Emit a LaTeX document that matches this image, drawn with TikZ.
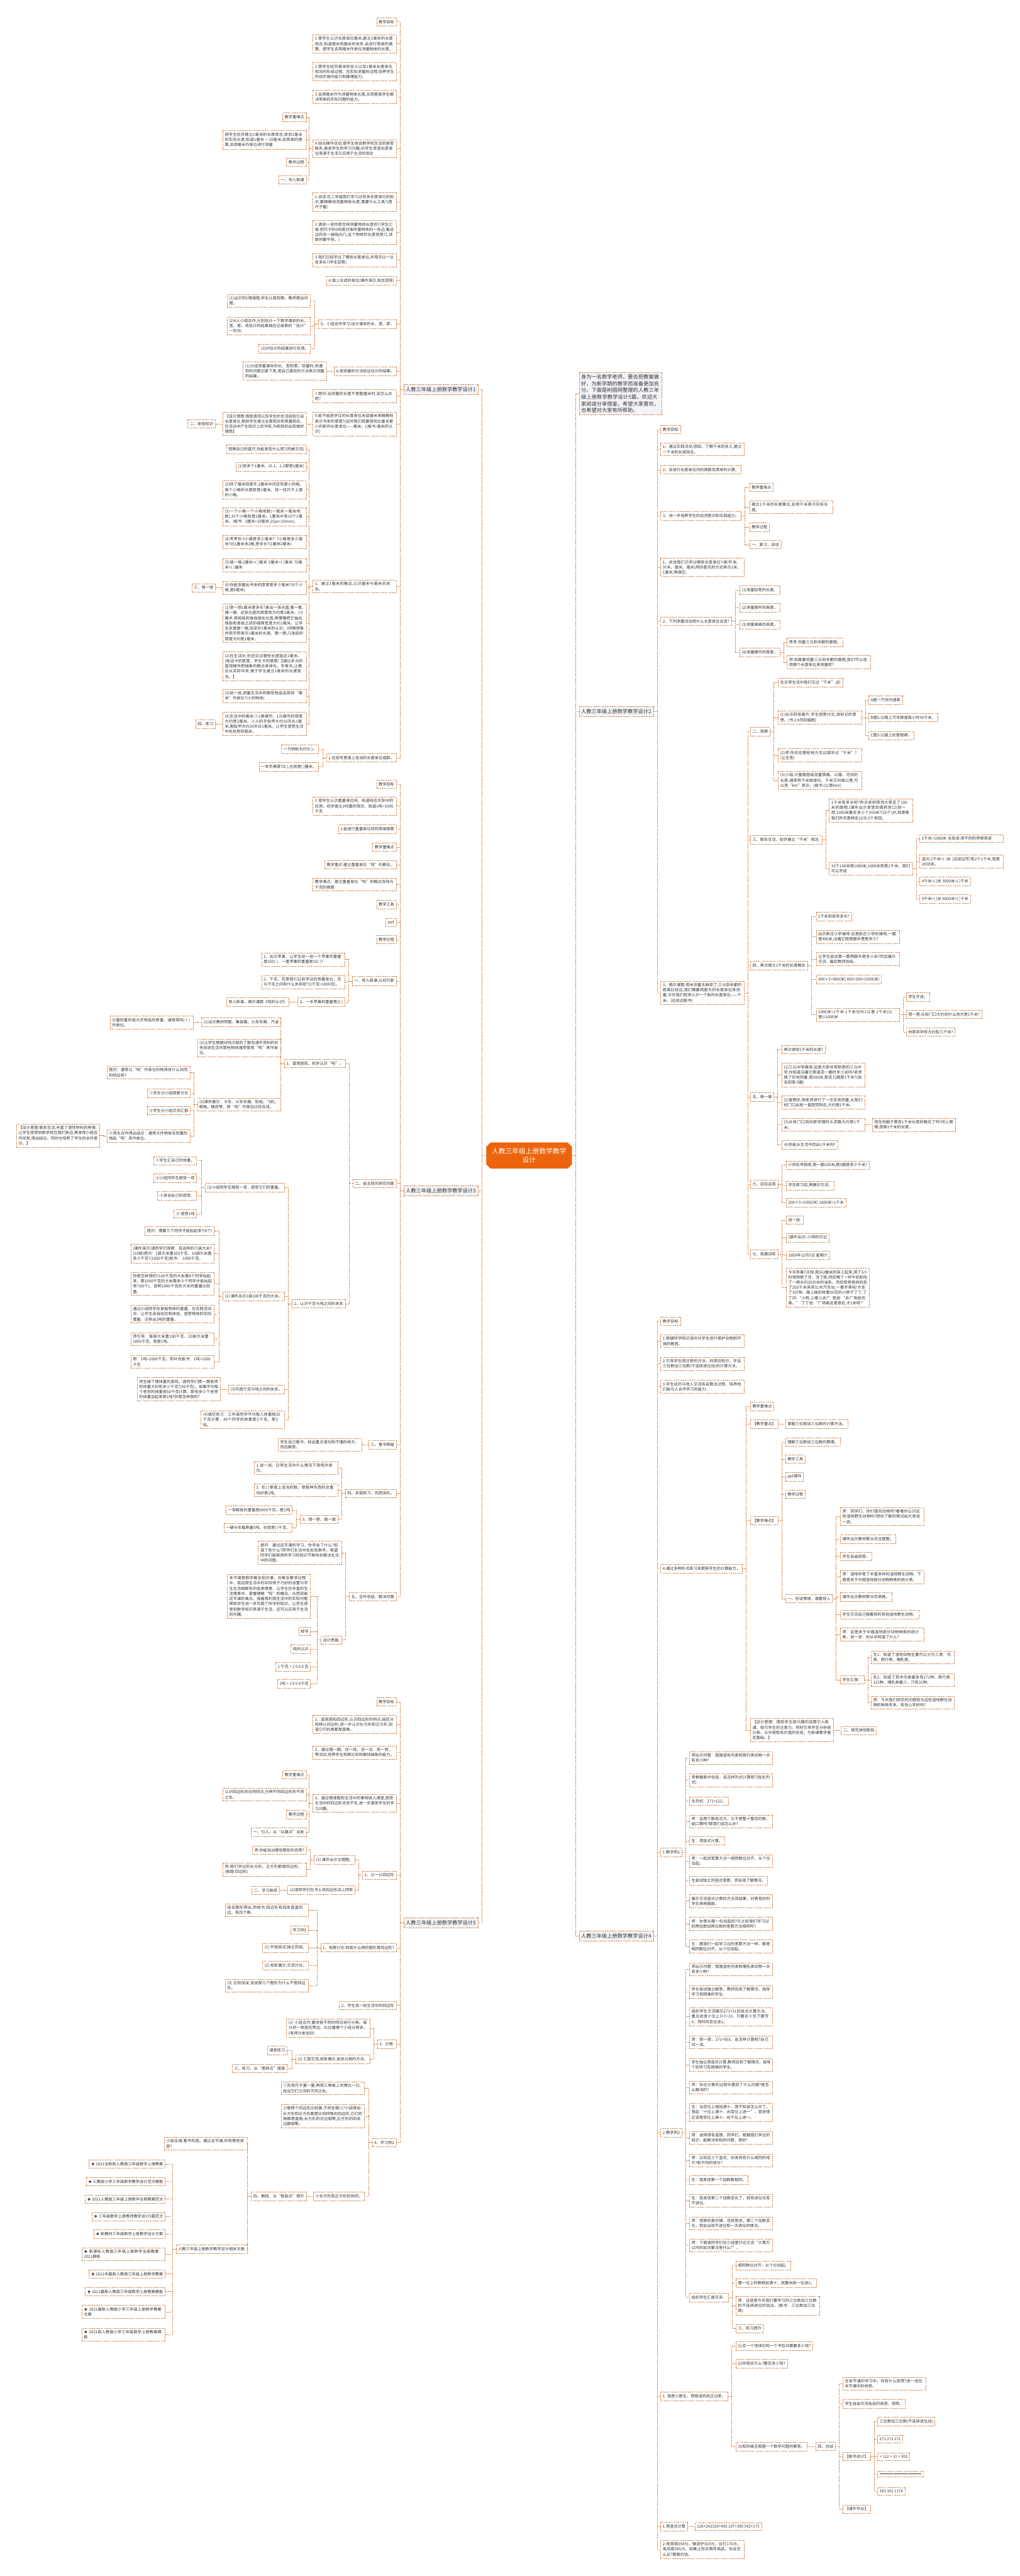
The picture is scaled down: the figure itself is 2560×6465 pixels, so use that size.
\documentclass[tikz,border=0pt]{standalone}
\usepackage{fontspec}
\setmainfont{Noto Sans CJK SC}
\XeTeXlinebreaklocale "zh"
\XeTeXlinebreakskip = 0pt plus 1pt
\usetikzlibrary{shapes.misc}

\definecolor{edgeor}{RGB}{207,116,52}
\definecolor{rootor}{RGB}{236,100,14}
\definecolor{topicgray}{RGB}{242,243,246}
\definecolor{txtgray}{RGB}{51,51,51}

\tikzset{
  box/.style={draw=edgeor, dash pattern=on 2.6pt off 1.8pt, line width=1.1pt,
    fill=white, text=txtgray, font=\fontsize{9.8}{13}\selectfont,
    inner xsep=5pt, inner ysep=6pt, align=left},
  lt/.style={box, anchor=east},
  rt/.style={box, anchor=west},
  wrap/.style={text width=199pt, inner ysep=5pt},
  topic/.style={box, fill=topicgray, font=\fontsize{13}{16.7}\selectfont, inner ysep=6.5pt},
  root/.style={shape=chamfered rectangle, chamfered rectangle xsep=7pt, fill=rootor,
    draw=rootor, text=white, font=\fontsize{17}{22}\selectfont, align=center,
    minimum width=215pt, minimum height=65pt},
  link/.style={draw=edgeor, dash pattern=on 2.6pt off 1.8pt, line width=1.1pt}
}

\begin{document}
\begin{tikzpicture}[x=1pt, y=-1pt]
  \useasboundingbox (0,0) rectangle (2560,6465);

  % center and main topics
  \node[root] (root) at (1328,2900) {人教三年级上册数学教学\\设计};
  \node[topic, anchor=east] (d1) at (1200,978) {人教三年级上册数学教学设计1};
  \node[topic, anchor=east] (d3) at (1200,2989) {人教三年级上册数学教学设计3};
  \node[topic, anchor=east] (d5) at (1200,4825) {人教三年级上册数学教学设计5};
  \node[topic, anchor=west, text width=197pt, inner ysep=5pt] (intro) at (1453,988)
    {身为一名数学老师，要去把教案做好，为新学期的教学而准备更加充分。下面是树图网整理的人教三年级上册数学教学设计5篇，欢迎大家阅读分享借鉴，希望大家喜欢，也希望对大家有所帮助。};
  \node[topic, anchor=west] (d2) at (1453,1785) {人教三年级上册数学教学设计2};
  \node[topic, anchor=west] (d4) at (1453,4858) {人教三年级上册数学教学设计4};

  % design 1
  \node[lt] (a1) at (995,55) {教学目标};
  \node[lt,wrap] (a2) at (995,110) {1.使学生认识长度单位毫米,建立1毫米的长度观念,知道毫米和厘米的关系,会进行简单的换算。使学生会用毫米作单位测量物体的长度。};
  \node[lt,wrap] (a3) at (995,180) {2.使学生经历毫米的含义以及1毫米长度单位观念的形成过程。在实际测量的过程,培养学生的动手操作能力和推理能力。};
  \node[lt,wrap] (a4) at (995,243) {3.会用毫米作为测量物体长度,从而提高学生解决简单的实际问题的能力。};
  \node[lt,wrap] (a5) at (995,373) {4.结合操作活动,使学生体会数学和生活的紧密联系,激发学生的学习兴趣,向学生渗透长度单位来源于生活又应用于生活的观念};
  \node[lt] (a5a) at (769,294) {教学重难点};
  \node[lt,wrap] (a5b) at (769,351) {使学生初步建立1毫米的长度观念,体验1毫米的实际长度,知道1厘米 = 10毫米;会简单的换算;会用毫米作单位进行测量};
  \node[lt] (a5c) at (769,407) {教学过程};
  \node[lt] (a5d) at (769,451) {一、导入新课};
  \node[lt,wrap] (a6) at (995,507) {1.谈话:在二年级我们学习过有关长度单位的知识,要精确地测量物体长度,需要什么工具?(用尺子量)};
  \node[lt,wrap] (a7) at (995,583) {2.请说一说你是怎样测量物体长度的?(学生汇报:把尺子的0刻度对准所量物体的一条边,看这边的另一端指向几,这个物体的长度就是几,读数时要平视。)};
  \node[lt,wrap] (a8) at (995,653) {3.我们已经学过了哪些长度单位,并用手比一比有多长?(学生回答)};
  \node[lt] (a9) at (995,704) {4.填上合适的单位(课件演示,指生回答)};
  \node[lt] (a10) at (995,814) {5、小组合作学习,估计课本的长、宽、厚。};
  \node[lt,wrap] (a10a) at (780,755) {(1)出示例1情境图,学生认真观察。教师提出问题。};
  \node[lt,wrap] (a10b) at (780,818) {(2)4人小组合作,分别估计一下数学课本的长、宽、厚。将估计的结果填在记录表的“估计”一栏中。};
  \node[lt] (a10c) at (780,875) {(3)对估计的结果进行反馈。};
  \node[lt] (a11) at (995,932) {6.用测量的方法验证估计的结果。};
  \node[lt,wrap] (a11a) at (820,931) {(1)分组测量课本的长、宽和厚。测量时,将遇到的问题记录下来,用自己喜欢的方法表示测量的结果。};
  \node[lt,wrap] (a12) at (995,994) {7.提问:当测量的长度不是整厘米时,该怎么办呢?};
  \node[lt,wrap] (a13) at (995,1064) {8.能不能用学过的长度单位米或厘米来精确地表示书本的厚度?(这时我们就要用到比厘米更小的新的长度单位——毫米。)(板书:毫米的认识)};
  \node[lt,wrap] (a13a) at (769,1064) {【设计意图:借助游戏以及学生的生活经验引出长度单位,帮助学生建立长度观念和质量观念。在活动中产生知识上的冲突,为新知的出现做好铺垫】};
  \node[lt] (a13b) at (541,1064) {二、新授知识};
  \node[lt,wrap] (a14) at (995,1472) {1、建立1毫米的概念,认识厘米与毫米的关系。};
  \node[lt] (a14a) at (769,1128) {观察自己的直尺,你能发现什么呢?(同桌交流)};
  \node[lt] (a14b) at (769,1171) {(1)很多个1厘米。(0-1、1-2都是1厘米)};
  \node[lt,wrap] (a14c) at (769,1229) {(2)除了厘米刻度外,1厘米中间还有更小的格。每个小格的长度就是1毫米。找一找尺子上面的小格。};
  \node[lt,wrap] (a14d) at (769,1297) {(3)一个小格一个小格地数(一毫米一毫米地数),10个小格就是1厘米。1厘米中有10个1毫米。(板书: 1厘米=10毫米,25px=10mm)。};
  \node[lt,wrap] (a14e) at (769,1360) {(4)考考你:3小格是多少毫米? 7小格是多少毫米?比1厘米多2格,是多长?(1厘米2毫米)};
  \node[lt,wrap] (a14f) at (769,1418) {(5)填一填:2厘米=( )毫米 5厘米=( )毫米 70毫米=( )厘米};
  \node[lt,wrap] (a14g) at (769,1475) {(6)你能测量出书本的厚度是多少毫米?(6个小格,是6毫米)};
  \node[lt] (a14g1) at (541,1475) {三、想一想};
  \node[lt,wrap] (a14h) at (769,1564) {(1)想一想1毫米是多长?拿出一张光盘,看一看,摸一摸。这张光盘的厚度就大约是1毫米。(小魔术:用拇指和食指捏住光盘,再慢慢把它抽出,拇指和食指之间的缝隙宽度大约1毫米。让学生反复做一做,加深对1毫米的认识。)闭眼想象并用手势表示1毫米的长度。猜一猜,几张纸的厚度大约是1毫米。};
  \node[lt,wrap] (a14i) at (769,1672) {(2)在生活中,你还见过哪些长度接近1毫米。(电话卡的厚度、学生卡的厚度)【通过多次的直观操作把抽象的概念具体化、形象化,让概念从实际中来,便于学生建立1毫米的长度观念。】};
  \node[lt,wrap] (a14j) at (769,1747) {(3)说一说,测量生活中的哪些物品会用到“毫米”作单位?(小的物体)};
  \node[lt,wrap] (a14k) at (769,1817) {(4)生活中的毫米:①1角硬币、1元硬币的厚度大约是2毫米。②人的手指甲大约10天长1毫米,脚趾甲大约20天长1毫米。让学生感受生活中处处用到毫米。};
  \node[lt] (a14k1) at (541,1817) {四、练习};
  \node[lt] (a15) at (995,1902) {1.在括号里填上适当的长度单位或数。};
  \node[lt] (a15a) at (800,1880) {一只蚂蚁长约3( )。};
  \node[lt] (a15b) at (800,1924) {一本字典厚70( ),也就是( )厘米。};

  % design 3
  \node[lt] (c1) at (995,1968) {教学目标};
  \node[lt,wrap] (c2) at (995,2023) {1 使学生认识重量单位吨，知道吨在实际中的应用，初步建立1吨重的观念，知道1吨=1000千克};
  \node[lt] (c3) at (995,2081) {2 能进行重量单位间的简单换算};
  \node[lt] (c4) at (995,2126) {教学重难点};
  \node[lt] (c5) at (995,2170) {教学重点:建立重量单位“吨”的概念。};
  \node[lt,wrap] (c6) at (995,2220) {教学难点：建立重量单位“吨”的概念及吨与千克的换算};
  \node[lt] (c7) at (995,2270) {教学工具};
  \node[lt] (c8) at (995,2315) {ppt};
  \node[lt] (c9) at (995,2358) {教学过程};
  \node[lt] (c10) at (995,2462) {一、导入新课,以旧引新};
  \node[lt,wrap] (c10a) at (866,2408) {1、出示苹果，让学生说一说一个苹果的重量是250( )，一筐苹果的重量是15( )?};
  \node[lt,wrap] (c10b) at (866,2465) {2、千克、克是我们以前学过的质量单位，克与千克之间有什么关系呢?(1千克=1000克)。};
  \node[lt] (c10c) at (866,2515) {3、一车苹果的重量是2( )};
  \node[lt] (c10d) at (726,2515) {导入新课，揭示课题《吨的认识》};
  \node[lt] (c11) at (995,2970) {二、自主探究研究问题};
  \node[lt] (c11a) at (867,2669) {1、直观感知，初步认识“吨”。};
  \node[lt] (c11a1) at (705,2566) {(1)出示教材例题，集装箱，火车车厢，汽油};
  \node[lt,wrap] (c11a1x) at (486,2566) {计量较重的或大宗物品的质量，通常用吨( t )作单位。};
  \node[lt,wrap] (c11a2) at (705,2630) {(2)让学生根据对吨大致的了解及课外资料的补充说说生活中那些物体通常使用“吨”来作单位。};
  \node[lt,wrap] (c11a3) at (705,2772) {(3)课件展示：卡车、火车车厢、轮船、飞机、鲸鱼、楼房等，用“吨”作单位比较合适。};
  \node[lt,wrap] (c11a3a) at (478,2692) {提问：通常以“吨”作单位的物体有什么共同的特征呢?};
  \node[lt] (c11a3b) at (478,2744) {①学生分小组观察讨论};
  \node[lt] (c11a3c) at (478,2787) {②学生分小组交流汇报};
  \node[lt,wrap] (c11a3d) at (478,2851) {③师生合作得出结论：通常大件物体及较重的物品“吨”来作单位。};
  \node[lt,wrap] (c11a3e) at (251,2850) {【设计意图:联系生活,丰富了感性材料的种类,让学生感受到数学就在我们身边,再发挥小组合作优势,得出结论。同时也培养了学生的合作意识。】};
  \node[lt] (c11b) at (867,3272) {2、认识千克与吨之间的关系};
  \node[lt] (c11b1) at (714,2980) {(1)小组同学互相背一背，感受它们的重量。};
  \node[lt] (c11b1a) at (494,2913) {①学生汇自己的体重。};
  \node[lt] (c11b1b) at (494,2957) {②小组同学互相背一背};
  \node[lt] (c11b1c) at (494,3001) {③说说自己的感受。};
  \node[lt] (c11b1d) at (494,3046) {④ 感受1吨};
  \node[lt] (c11b2) at (714,3253) {(2) 课件出示1袋100千克的大米。};
  \node[lt] (c11b2a) at (538,3089) {提问：需要几个同学才能抬起来?(8个)};
  \node[lt,wrap] (c11b2b) at (538,3146) {(课件演示)请同学们观察：有这样的几袋大米?(10袋)提问：1袋大米重100千克，10袋大米重多少千克?(1000千克)板书： 1000千克。};
  \node[lt,wrap] (c11b2c) at (538,3222) {你是怎样想的?100千克的大米需8个同学抬起来，那1000千克的大米需多少个同学才能抬起来?(80个)。说明1000千克的大米的重量比较重。};
  \node[lt,wrap] (c11b2d) at (538,3298) {通过小组同学反复掂物体的重量，在实践活动中，让学生亲自经历和体验，感受物体的实际重量。迁移出1吨的重量。};
  \node[lt,wrap] (c11b2e) at (538,3361) {师引导：每袋大米重100千克，10袋大米重1000千克，就是1吨。};
  \node[lt,wrap] (c11b2f) at (538,3418) {即：1吨=1000千克。师补充板书：1吨=1000千克};
  \node[lt] (c11b3) at (714,3487) {(3)巩固千克与吨之间的关系。};
  \node[lt,wrap] (c11b3a) at (554,3487) {师生做个猜体重的游戏。请同学们猜一猜老师的体重大约有多少千克?(50千克)，如果平均每个老师的体重按50千克计算，那有多少个老师的体重合起来是1吨?你是怎样想的?};
  \node[lt,wrap] (c11b4) at (714,3563) {(4)填空练习：三年级同学平均每人体重按25千克计算，40个同学的体重是()千克，是()吨。};
  \node[lt] (c12) at (995,3626) {三、看书质疑};
  \node[lt,wrap] (c12a) at (908,3626) {学生自己看书，标出重点语句和不懂的地方，然后解答。};
  \node[lt] (c13) at (995,3748) {四、多层练习，巩固深化。};
  \node[lt,wrap] (c13a) at (848,3684) {1.说一说，日常生活中什么情况下用吨作单位。};
  \node[lt,wrap] (c13b) at (848,3740) {2. 在( )里填上适当的数，使每种东西的总重恰好是1吨。};
  \node[lt] (c13c) at (848,3813) {3、想一想，填一填};
  \node[lt] (c13c1) at (734,3790) {一条鲸鱼的重量是6000千克，是()吨};
  \node[lt] (c13c2) at (734,3834) {一辆卡车载质量5吨，也就是( )千克。};
  \node[lt] (c14) at (995,4007) {五、合作总结，解决问题};
  \node[lt,wrap] (c14a) at (858,3897) {提问：通过这节课的学习，你学会了什么?知道了些什么?同学们生活中处处有数学，希望同学们能够用所学习的知识不断地去解决生活中的问题。};
  \node[lt] (c14b) at (858,4116) {设计思路:};
  \node[lt,wrap] (c14b1) at (780,4006) {本节课是数学概念知识课，在概念教学过程中，我运用生活中的实际例子巧妙的设置与学生生活相联系的各类情景，让学生在丰富的生活情景中，掌握理解“吨”的概念。从而突破这节课的难点。接着我利用生活中的实际问题帮助学生进一步巩固了所学的知识。让学生感受到数学知识来源于生活，还可以应用于生活的乐趣。};
  \node[lt] (c14b2) at (780,4094) {板书};
  \node[lt] (c14b3) at (780,4139) {吨的认识};
  \node[lt] (c14b4) at (780,4183) {1 千克 = 1 0 0 0 克};
  \node[lt] (c14b5) at (780,4226) {1吨 = 1 0 0 0千克};

  % design 5
  \node[lt] (e1) at (995,4271) {教学目标};
  \node[lt,wrap] (e2) at (995,4328) {1、直观感知四边形,认识四边形的特点,能区分和辨认四边形,进一步认识长方形和正方形,知道它们的角都是直角。};
  \node[lt,wrap] (e3) at (995,4398) {2、通过围一围、找一找、涂一涂、剪一剪、等活动,培养学生观察比较和概括抽象的能力。};
  \node[lt,wrap] (e4) at (995,4526) {3、通过情境图和生活中的事物进入课堂,感受生活中的四边形无处不在,进一步激发学生的学习兴趣。};
  \node[lt] (e4a) at (769,4454) {教学重难点};
  \node[lt,wrap] (e4b) at (769,4504) {认识四边形的共同特点,分辨不同四边形的不同之处。};
  \node[lt] (e4c) at (769,4554) {教学过程};
  \node[lt] (e4d) at (769,4598) {一、引入，从“从趣点”出发};
  \node[lt] (e5) at (995,4706) {1、认一认四边形};
  \node[lt] (e5a) at (892,4668) {(1) 课件出示主题图。};
  \node[lt] (e5a1) at (769,4643) {师:你能说出哪些图形的名称?};
  \node[lt,wrap] (e5a2) at (769,4692) {师:我们学过的长方形、正方形都是四边形。(板题:四边形)};
  \node[lt] (e5b) at (892,4744) {(2)请同学们在书上将四边形涂上阴影};
  \node[lt] (e5b1) at (702,4744) {二、学习新练};
  \node[lt] (e6) at (995,4888) {1、观察讨论:到底什么样的图形是四边形?};
  \node[lt,wrap] (e6a) at (775,4794) {结合图形得出,师板书:四边形有四条直直的边、有四个角。};
  \node[lt] (e6b) at (775,4844) {学习例1};
  \node[lt] (e6c) at (775,4888) {(1) 开放尝试,独立完成。};
  \node[lt] (e6d) at (775,4933) {(2) 投影展示,交流讨论。};
  \node[lt,wrap] (e6e) at (775,4983) {(3) 比较加深,说说那几个图形为什么不是四边形。};
  \node[lt] (e7) at (995,5033) {2、学生说一说生活中的四边形};
  \node[lt] (e8) at (995,5130) {3、分类:};
  \node[lt,wrap] (e8a) at (929,5090) {(1) 小组合作,要求按不同的特点进行分类。每分好一类放在旁边。比比看哪个小组分得多。(老师分发信封)};
  \node[lt] (e8b) at (929,5168) {(2) 汇报交流,投影展示,说说分类的方法。};
  \node[lt] (e8b1) at (721,5146) {课堂练习};
  \node[lt] (e8b2) at (721,5191) {三、练习，从“差异点”提高};
  \node[lt] (e9) at (995,5377) {4、学习例2};
  \node[lt,wrap] (e9a) at (915,5241) {①先用尺子量一量,再用三角板上的角比一比,找出它们之间的不同之处。};
  \node[lt,wrap] (e9b) at (915,5311) {②哪两个四边形比较像,不同在哪儿?小结得出:长方形和正方形都是比较特殊的四边形,它们的角都是直角;长方形的对边相等,正方形的四条边都相等。};
  \node[lt] (e9c) at (915,5512) {③长方形和正方形的异同。};
  \node[lt] (e9d) at (769,5512) {四、概括，从“智能点”提升};
  \node[lt,wrap] (e9e) at (622,5380) {小结全课,看书巩固。通过这节课,你有哪些收获?};
  \node[lt] (e9f) at (622,5645) {人教三年级上册数学教学设计相关文章:};
  \node[lt] (s1) at (415,5431) {★ 2021全新新人教版三年级数学上册教案};
  \node[lt] (s2) at (415,5475) {★ 人教版小学三年级数学教学设计范文模板};
  \node[lt] (s3) at (415,5519) {★ 2021人教版三年级上册数学全册教案范文};
  \node[lt] (s4) at (415,5563) {★ 三年级数学上册教师教学设计5篇范文};
  \node[lt] (s5) at (415,5607) {★ 新教材三年级数学上册教学设计方案};
  \node[lt,wrap] (s6) at (415,5657) {★ 新课标人教版三年级上册数学全册教案2021模板};
  \node[lt] (s7) at (415,5707) {★ 2021年最新人教版三年级上册数学教案};
  \node[lt] (s8) at (415,5751) {★ 2021最新人教版三年级数学上册教案模板};
  \node[lt,wrap] (s9) at (415,5802) {★ 2021最新人教版小学三年级上册数学教案文案};
  \node[lt,wrap] (s10) at (415,5859) {★ 2021新人教版小学三年级数学上册教案模板};

  % design 2
  \node[rt] (b1) at (1658,1078) {教学目标};
  \node[rt,wrap] (b2) at (1658,1128) {1、通过实践活动,感知、了解千米的含义,建立一千米的长度观念。};
  \node[rt] (b3) at (1658,1179) {2、会进行长度单位间的换算及简单的计算。};
  \node[rt] (b4) at (1658,1295) {3、进一步培养学生的估测意识和实践能力。};
  \node[rt] (b4a) at (1881,1223) {教学重难点};
  \node[rt,wrap] (b4b) at (1881,1273) {建立1千米的长度概念,会用千米表示实际长度。};
  \node[rt] (b4c) at (1881,1323) {教学过程};
  \node[rt] (b4d) at (1881,1367) {一、复习，谈话};
  \node[rt,wrap] (b5) at (1658,1424) {1、说说我们已学过哪些长度单位?(板书:米、分米、厘米、毫米)用你喜欢的方式表示1米、1厘米,再填空。};
  \node[rt] (b6) at (1658,1559) {2、下列测量活动用什么长度单位合适?};
  \node[rt] (b6a) at (1856,1481) {(1)测量铅笔的长度。};
  \node[rt] (b6b) at (1856,1525) {(2)测量旗杆的高度。};
  \node[rt] (b6c) at (1856,1568) {(3)测量课桌的高度。};
  \node[rt] (b6d) at (1856,1638) {(4)测量硬币的厚度。};
  \node[rt] (b6d1) at (1975,1612) {思考:测量三元到丰都的路程。};
  \node[rt,wrap] (b6d2) at (1975,1662) {师:如果要测量三元到丰都的路程,我们可以选用哪个长度单位来测量呢?};
  \node[rt,wrap] (b7) at (1658,2492) {3、揭示课题:用米测量太麻烦了,三元到丰都的距离比较远,我们需要用更大的长度单位来测量,今天我们就来认识一个新的长度单位——千米。(边说边板书)};
  \node[rt] (b7a) at (1883,1836) {二、观察};
  \node[rt] (b7a1) at (1953,1713) {在日常生活中我们见过“千米”,如:};
  \node[rt,wrap] (b7a2) at (1953,1801) {(1)出示四张画片,学生观察讨论,说标记的意思。(书上4页四幅图)};
  \node[rt] (b7a2a) at (2180,1757) {A图一汽车时速表};
  \node[rt] (b7a2b) at (2180,1801) {B图2:公路上汽车限速每小时30千米。};
  \node[rt] (b7a2c) at (2180,1846) {C图3:公路上的里程碑。};
  \node[rt,wrap] (b7a3) at (1953,1896) {(2)师:你还在哪些地方见过或听过“千米”?(让生答)};
  \node[rt,wrap] (b7a4) at (1953,1959) {(3)小结:计量路程或测量铁路、公路、河流的长度,通常用千米做单位。千米又叫做公里,可以用“km”表示。(板书:(公里km))};
  \node[rt] (b7b) at (1883,2108) {三、联系生活，初步建立“千米”观念:};
  \node[rt,wrap] (b7b1) at (2081,2034) {1千米有多长呢?昨天老师带领大家走了100米的路程,(课件出示食堂到周转房口)想一想,1000米要走多少个100米?(10个)对,就是像我们昨天那样走10次,5个来回。};
  \node[rt,wrap] (b7b2) at (2081,2180) {10个100米是1000米,1000米就是1千米。我们可以写成};
  \node[rt,wrap] (b7b2a) at (2308,2104) {1千米=1000米 全班读:用不同的停顿来读};
  \node[rt,wrap] (b7b2b) at (2308,2162) {追问:2千米=( )米 (边说边写)有2个1千米,就是2000米。};
  \node[rt] (b7b2c) at (2308,2212) {4千米=( )米 3000米=( )千米};
  \node[rt] (b7b2d) at (2308,2256) {9千米=( )米 6000米=( )千米};
  \node[rt] (b7c) at (1883,2423) {四、再次建立1千米的长度概念};
  \node[rt] (b7c1) at (2048,2300) {1千米到底有多长?};
  \node[rt,wrap] (b7c2) at (2048,2351) {出示新庄小学操场:这是新庄小学的操场,一圈是400米,沿着它跑两圈半是是多少?};
  \node[rt,wrap] (b7c3) at (2048,2407) {让学生尝试算一算两圈半是多少米?然后展示交流。最后教师总结。};
  \node[rt] (b7c4) at (2048,2458) {400×2=800(米) 800+200=1000(米)};
  \node[rt,wrap] (b7c5) at (2048,2547) {1000米=1千米 1千米也叫1公里 1千米(公里)=1000米};
  \node[rt] (b7c5a) at (2274,2502) {学生齐读。};
  \node[rt] (b7c5b) at (2274,2546) {想一想:从校门口大约到什么地方是1千米?};
  \node[rt] (b7c5c) at (2274,2590) {你家到学校大约有几千米?};
  \node[rt] (b7d) at (1883,2753) {五、做一做};
  \node[rt] (b7d1) at (1962,2634) {再次体验1千米的长度?};
  \node[rt,wrap] (b7d2) at (1962,2698) {(1)三元中学操场:这是大家非常熟悉的三元中学,你知道沿着它跑道走一圈时多少米吗?老师做了实地测量,是200米,那走几圈是1千米?(指名回答:5圈)};
  \node[rt,wrap] (b7d3) at (1962,2767) {(2)星期天,杨老师进行了一次实地测量,从我们校门口出发一直医院附近,大约是1千米。};
  \node[rt,wrap] (b7d4) at (1962,2823) {(3)从校门口到向家坝铺的水泥路大约是1千米。};
  \node[rt,wrap] (b7d4a) at (2189,2823) {现在你脑子里有1千米长度的概念了吗?闭上眼睛,想像1千米的长度。};
  \node[rt] (b7d5) at (1962,2873) {(4)你能从生活中找出1千米吗?};
  \node[rt] (b7e) at (1883,2972) {六、实际运用};
  \node[rt,wrap] (b7e1) at (1973,2924) {小帅在早锻炼,跑一圈200米,跑5圈是多少千米?};
  \node[rt] (b7e2) at (1973,2975) {学生练习后,再展示交流。};
  \node[rt] (b7e3) at (1973,3018) {200×5=1000(米) 1000米=1千米};
  \node[rt] (b7f) at (1883,3148) {七、拓展训练};
  \node[rt] (b7f1) at (1973,3062) {改一改:};
  \node[rt] (b7f2) at (1973,3106) {(课件出示) 小明的日记};
  \node[rt] (b7f3) at (1973,3150) {2009年12月5日 星期六};
  \node[rt,wrap] (b7f4) at (1973,3232) {今天早晨7点钟,我从2厘米的床上起来,用了3小时很快刷了牙、洗了脸,然后喝了一杯牛奶和吃了一根长约20分米的油条。然后和爸爸妈妈走了200千米来到公共汽车站,一看手表哇!才走了3分钟。路上碰到体重50克的小胖子丁丁,丁丁问:“小明,上哪儿去?”我说:“去广场放风筝。” 丁丁说:“广场离这里很近,才1米呀!”};

  % design 4
  \node[rt] (f1) at (1658,3316) {教学目标};
  \node[rt,wrap] (f2) at (1658,3366) {1.根据所学知识适时对学生进行保护动物和环境的教育。};
  \node[rt,wrap] (f3) at (1658,3423) {2.引导学生用迁移的方法，利用旧知识，学会三位数加三位数(不连续进位加)的计算方法。};
  \node[rt,wrap] (f4) at (1658,3480) {3.学生经历与他人交流各自算法过程，培养他们能与人合作学习的能力。};
  \node[rt] (f5) at (1658,3937) {4.通过多种形式练习来提高学生的计算能力。};
  \node[rt] (f5a) at (1883,3530) {教学重难点};
  \node[rt] (f5b) at (1883,3574) {【教学重点】};
  \node[rt] (f5b1) at (1971,3574) {掌握三位数加三位数的计算方法。};
  \node[rt] (f5c) at (1883,3816) {【教学难点】};
  \node[rt] (f5c1) at (1971,3619) {理解三位数加三位数的算理。};
  \node[rt] (f5c2) at (1971,3662) {教学工具};
  \node[rt] (f5c3) at (1971,3706) {ppt课件};
  \node[rt] (f5c4) at (1971,3750) {教学过程};
  \node[rt] (f5c5) at (1971,4012) {一、创设情境，激趣导入};
  \node[rt,wrap] (g1) at (2109,3806) {师：同学们，你们喜欢动物吗?看看你认识这些湿地野生动物吗?把你了解的情况给大家说一说。};
  \node[rt] (g2) at (2109,3863) {课件出示教材第36页主题图。};
  \node[rt] (g3) at (2109,3906) {学生自由回答。};
  \node[rt,wrap] (g4) at (2109,3958) {师：湿地孕育了丰富多样的湿地野生动物。下面是关于中国湿地部分动物种类的统计表。};
  \node[rt] (g5) at (2109,4008) {课件出示教材第36页表格。};
  \node[rt] (g6) at (2109,4052) {学生交流自己搜集到的其他湿地野生动物。};
  \node[rt,wrap] (g7) at (2109,4102) {师：这是关于中国湿地部分动物种类的统计表，说一说：你从中知道了什么?};
  \node[rt] (g8) at (2109,4216) {学生汇报：};
  \node[rt,wrap] (g8a) at (2186,4159) {生1：知道了湿地动物主要可以分为三类：鸟类、爬行类、哺乳类。};
  \node[rt,wrap] (g8b) at (2186,4216) {生2：知道了其中鸟类最多有271种，爬行类122种，哺乳类最少，只有31种。};
  \node[rt,wrap] (g8c) at (2186,4273) {师：今天我们研究的问题就与这些湿地野生动物的种类有关，有信心学好吗?};
  \node[rt,wrap] (f5d) at (1883,4342) {【设计意图：借助学生感兴趣的话题引入新课，吸引学生的注意力。同时引导学生分析统计表，从中获取有价值的信息，为新课教学奠定基础。】};
  \node[rt] (f5d1) at (2111,4343) {二、探究体验新知};
  \node[rt] (f6) at (1658,4649) {1.教学例1};
  \node[rt,wrap] (h1) at (1730,4412) {师出示问题：我国湿地鸟类和爬行类动物一共有多少种?};
  \node[rt,wrap] (h2) at (1730,4468) {师根据表中信息，该怎样列式计算呢?(指生列式)};
  \node[rt] (h3) at (1730,4520) {生列式：271+122。};
  \node[rt,wrap] (h4) at (1730,4571) {师：这两个数有点大，又不是整十整百的数，能口算吗?那我们该怎么办?};
  \node[rt] (h5) at (1730,4620) {生：用竖式计算。};
  \node[rt,wrap] (h6) at (1730,4671) {师：一起说笔算方法一相同数位对齐，从个位加起。};
  \node[rt] (h7) at (1730,4720) {生尝试独立列竖式笔算，师巡视了解情况。};
  \node[rt,wrap] (h8) at (1730,4771) {展示交流竖式计算的方法及结果，对表现好的学生表扬鼓励。};
  \node[rt,wrap] (h9) at (1730,4828) {师：你是从哪一位加起的?与之前我们学习过的两位数加两位数的笔算方法相同吗?};
  \node[rt,wrap] (h10) at (1730,4885) {生：跟我们一起学习过的笔算方法一样，都是相同数位对齐，从个位加起。};
  \node[rt] (f7) at (1658,5353) {2.教学例2};
  \node[rt,wrap] (i1) at (1730,4942) {师出示问题：我国湿地鸟类和哺乳类动物一共有多少种?};
  \node[rt,wrap] (i2) at (1730,4999) {学生尝试独立解答，教师巡视了解情况，指导学习有困难的学生。};
  \node[rt,wrap] (i3) at (1730,5061) {组织学生交流展示271+31的竖式计算方法。重点说清十位上3+7=10，只要在十位下面写0，同时向百位进1。};
  \node[rt,wrap] (i4) at (1730,5125) {师：想一想，271+903，该怎样计算呢?自己试一试。};
  \node[rt,wrap] (i5) at (1730,5182) {学生独立用竖式计算,教师巡视了解情况，指导个别学习有困难的学生。};
  \node[rt,wrap] (i6) at (1730,5239) {师：你在计算的过程中遇到了什么问题?是怎么解决的?};
  \node[rt,wrap] (i7) at (1730,5301) {生：当百位上相加满十，我不知该怎么办了。想起“十位上满十，向百位上进一”，我觉得应该是百位上满十，向千位上进一。};
  \node[rt,wrap] (i8) at (1730,5365) {师：说得很有道理，同学们，根据我们学过的知识，能解决未知的问题，很好!};
  \node[rt,wrap] (i9) at (1730,5422) {师：比较这三个竖式，你发现有什么相同的地方?和不同的地方?};
  \node[rt] (i10) at (1730,5471) {生：我发现第一个加数都相同。};
  \node[rt,wrap] (i11) at (1730,5523) {生：我发现第二个加数变化了，就有进位也有不进位。};
  \node[rt,wrap] (i12) at (1730,5580) {师：观察的真仔细，也就是说，第二个加数变化，就会出现不进位和一次进位的情况。};
  \node[rt,wrap] (i13) at (1730,5635) {师：下面请同学们在小组里讨论交流“计算万以内的加法要注意什么?”。};
  \node[rt] (i14) at (1730,5766) {组织学生汇报交流：};
  \node[rt] (i14a) at (1847,5686) {相同数位对齐，从个位加起。};
  \node[rt] (i14b) at (1847,5730) {哪一位上的数相加满十，就要向前一位进1。};
  \node[rt,wrap] (i14c) at (1847,5787) {师：这就是今天我们要学习的三位数加三位数的不连续进位的加法。(板书：三位数加三位数)};
  \node[rt] (i14d) at (1847,5844) {三、练习提升};
  \node[rt] (f8) at (1658,6014) {1. 我是小医生，把错误的改正过来。};
  \node[rt] (f8a) at (1846,5888) {(1)买一个地球仪和一个书包共需要多少钱?};
  \node[rt] (f8b) at (1846,5932) {(2)你想买什么?要花多少钱?};
  \node[rt] (f8c) at (1846,6140) {(3)和同桌互相提一个数学问题并解答。};
  \node[rt] (f8d) at (2047,6140) {四、总结};
  \node[rt,wrap] (f8d1) at (2115,5982) {在本节课的学习中，你有什么感受?说一说在本节课中的收获。};
  \node[rt] (f8d2) at (2115,6033) {学生自由交流各自的收获、感受。};
  \node[rt] (f8d3) at (2115,6165) {【板书设计】};
  \node[rt] (f8d3a) at (2202,6077) {三位数加三位数(不连续进位加)};
  \node[rt] (f8d3b) at (2202,6121) {271 271 271};
  \node[rt] (f8d3c) at (2202,6165) {+ 122 + 31 + 903};
  \node[rt] (f8d3d) at (2202,6209) {\rule[0.3ex]{34pt}{0.8pt}\,\rule[0.3ex]{34pt}{0.8pt}\,\rule[0.3ex]{34pt}{0.8pt}};
  \node[rt] (f8d3e) at (2202,6252) {393 302 1174};
  \node[rt] (f8d4) at (2115,6297) {【课外作业】};
  \node[rt] (f9) at (1658,6341) {1.用竖式计算};
  \node[rt] (f9a) at (1744,6341) {126+242320+485 107+385 542+175};
  \node[rt,wrap] (f10) at (1658,6398) {2.电饭锅358元，微波炉329元，台灯176元，电风扇385元。如果让你买两件商品，你会怎么买?算算价钱。};

  % connectors, left side
  \foreach \m in {d1,d3,d5} \draw[link] (root.west) -- ++(-10,0) |- (\m.east);
  \foreach \c in {a1,a2,a3,a4,a5,a6,a7,a8,a9,a10,a11,a12,a13,a14,a15}
    \draw[link] (d1.west) -- ++(-9,0) |- (\c.east);
  \foreach \c in {a5a,a5b,a5c,a5d} \draw[link] (a5.west) -- ++(-9,0) |- (\c.east);
  \foreach \c in {a10a,a10b,a10c} \draw[link] (a10.west) -- ++(-9,0) |- (\c.east);
  \draw[link] (a11.west) -- ++(-9,0) |- (a11a.east);
  \draw[link] (a13.west) -- ++(-9,0) |- (a13a.east);
  \draw[link] (a13a.west) -- ++(-9,0) |- (a13b.east);
  \foreach \c in {a14a,a14b,a14c,a14d,a14e,a14f,a14g,a14h,a14i,a14j,a14k}
    \draw[link] (a14.west) -- ++(-9,0) |- (\c.east);
  \draw[link] (a14g.west) -- ++(-9,0) |- (a14g1.east);
  \draw[link] (a14k.west) -- ++(-9,0) |- (a14k1.east);
  \foreach \c in {a15a,a15b} \draw[link] (a15.west) -- ++(-9,0) |- (\c.east);

  \foreach \c in {c1,c2,c3,c4,c5,c6,c7,c8,c9,c10,c11,c12,c13,c14}
    \draw[link] (d3.west) -- ++(-9,0) |- (\c.east);
  \foreach \c in {c10a,c10b,c10c} \draw[link] (c10.west) -- ++(-9,0) |- (\c.east);
  \draw[link] (c10c.west) -- ++(-9,0) |- (c10d.east);
  \foreach \c in {c11a,c11b} \draw[link] (c11.west) -- ++(-9,0) |- (\c.east);
  \foreach \c in {c11a1,c11a2,c11a3} \draw[link] (c11a.west) -- ++(-9,0) |- (\c.east);
  \draw[link] (c11a1.west) -- ++(-9,0) |- (c11a1x.east);
  \foreach \c in {c11a3a,c11a3b,c11a3c,c11a3d} \draw[link] (c11a3.west) -- ++(-9,0) |- (\c.east);
  \draw[link] (c11a3d.west) -- ++(-9,0) |- (c11a3e.east);
  \foreach \c in {c11b1,c11b2,c11b3,c11b4} \draw[link] (c11b.west) -- ++(-9,0) |- (\c.east);
  \foreach \c in {c11b1a,c11b1b,c11b1c,c11b1d} \draw[link] (c11b1.west) -- ++(-9,0) |- (\c.east);
  \foreach \c in {c11b2a,c11b2b,c11b2c,c11b2d,c11b2e,c11b2f} \draw[link] (c11b2.west) -- ++(-9,0) |- (\c.east);
  \draw[link] (c11b3.west) -- ++(-9,0) |- (c11b3a.east);
  \draw[link] (c12.west) -- ++(-9,0) |- (c12a.east);
  \foreach \c in {c13a,c13b,c13c} \draw[link] (c13.west) -- ++(-9,0) |- (\c.east);
  \foreach \c in {c13c1,c13c2} \draw[link] (c13c.west) -- ++(-9,0) |- (\c.east);
  \foreach \c in {c14a,c14b} \draw[link] (c14.west) -- ++(-9,0) |- (\c.east);
  \foreach \c in {c14b1,c14b2,c14b3,c14b4,c14b5} \draw[link] (c14b.west) -- ++(-9,0) |- (\c.east);

  \foreach \c in {e1,e2,e3,e4,e5,e6,e7,e8,e9}
    \draw[link] (d5.west) -- ++(-9,0) |- (\c.east);
  \foreach \c in {e4a,e4b,e4c,e4d} \draw[link] (e4.west) -- ++(-9,0) |- (\c.east);
  \foreach \c in {e5a,e5b} \draw[link] (e5.west) -- ++(-9,0) |- (\c.east);
  \foreach \c in {e5a1,e5a2} \draw[link] (e5a.west) -- ++(-9,0) |- (\c.east);
  \draw[link] (e5b.west) -- ++(-9,0) |- (e5b1.east);
  \foreach \c in {e6a,e6b,e6c,e6d,e6e} \draw[link] (e6.west) -- ++(-9,0) |- (\c.east);
  \foreach \c in {e8a,e8b} \draw[link] (e8.west) -- ++(-9,0) |- (\c.east);
  \foreach \c in {e8b1,e8b2} \draw[link] (e8b.west) -- ++(-9,0) |- (\c.east);
  \foreach \c in {e9a,e9b,e9c} \draw[link] (e9.west) -- ++(-9,0) |- (\c.east);
  \draw[link] (e9c.west) -- ++(-9,0) |- (e9d.east);
  \foreach \c in {e9e,e9f} \draw[link] (e9d.west) -- ++(-9,0) |- (\c.east);
  \foreach \i in {1,...,10} \draw[link] (e9f.west) -- ++(-9,0) |- (s\i.east);

  % connectors, right side
  \foreach \m in {intro,d2,d4} \draw[link] (root.east) -- ++(9,0) |- (\m.west);
  \foreach \c in {b1,b2,b3,b4,b5,b6,b7} \draw[link] (d2.east) -- ++(9,0) |- (\c.west);
  \foreach \c in {b4a,b4b,b4c,b4d} \draw[link] (b4.east) -- ++(9,0) |- (\c.west);
  \foreach \c in {b6a,b6b,b6c,b6d} \draw[link] (b6.east) -- ++(9,0) |- (\c.west);
  \foreach \c in {b6d1,b6d2} \draw[link] (b6d.east) -- ++(9,0) |- (\c.west);
  \foreach \c in {b7a,b7b,b7c,b7d,b7e,b7f} \draw[link] (b7.east) -- ++(9,0) |- (\c.west);
  \foreach \c in {b7a1,b7a2,b7a3,b7a4} \draw[link] (b7a.east) -- ++(9,0) |- (\c.west);
  \foreach \c in {b7a2a,b7a2b,b7a2c} \draw[link] (b7a2.east) -- ++(9,0) |- (\c.west);
  \foreach \c in {b7b1,b7b2} \draw[link] (b7b.east) -- ++(9,0) |- (\c.west);
  \foreach \c in {b7b2a,b7b2b,b7b2c,b7b2d} \draw[link] (b7b2.east) -- ++(9,0) |- (\c.west);
  \foreach \c in {b7c1,b7c2,b7c3,b7c4,b7c5} \draw[link] (b7c.east) -- ++(9,0) |- (\c.west);
  \foreach \c in {b7c5a,b7c5b,b7c5c} \draw[link] (b7c5.east) -- ++(9,0) |- (\c.west);
  \foreach \c in {b7d1,b7d2,b7d3,b7d4,b7d5} \draw[link] (b7d.east) -- ++(9,0) |- (\c.west);
  \draw[link] (b7d4.east) -- ++(9,0) |- (b7d4a.west);
  \foreach \c in {b7e1,b7e2,b7e3} \draw[link] (b7e.east) -- ++(9,0) |- (\c.west);
  \foreach \c in {b7f1,b7f2,b7f3,b7f4} \draw[link] (b7f.east) -- ++(9,0) |- (\c.west);

  \foreach \c in {f1,f2,f3,f4,f5,f6,f7,f8,f9,f10} \draw[link] (d4.east) -- ++(9,0) |- (\c.west);
  \foreach \c in {f5a,f5b,f5c,f5d} \draw[link] (f5.east) -- ++(9,0) |- (\c.west);
  \draw[link] (f5b.east) -- ++(9,0) |- (f5b1.west);
  \foreach \c in {f5c1,f5c2,f5c3,f5c4,f5c5} \draw[link] (f5c.east) -- ++(9,0) |- (\c.west);
  \foreach \c in {g1,g2,g3,g4,g5,g6,g7,g8} \draw[link] (f5c5.east) -- ++(9,0) |- (\c.west);
  \foreach \c in {g8a,g8b,g8c} \draw[link] (g8.east) -- ++(9,0) |- (\c.west);
  \draw[link] (f5d.east) -- ++(9,0) |- (f5d1.west);
  \foreach \i in {1,...,10} \draw[link] (f6.east) -- ++(9,0) |- (h\i.west);
  \foreach \i in {1,...,14} \draw[link] (f7.east) -- ++(9,0) |- (i\i.west);
  \foreach \c in {i14a,i14b,i14c,i14d} \draw[link] (i14.east) -- ++(9,0) |- (\c.west);
  \foreach \c in {f8a,f8b,f8c} \draw[link] (f8.east) -- ++(9,0) |- (\c.west);
  \draw[link] (f8c.east) -- ++(9,0) |- (f8d.west);
  \foreach \c in {f8d1,f8d2,f8d3,f8d4} \draw[link] (f8d.east) -- ++(9,0) |- (\c.west);
  \foreach \c in {f8d3a,f8d3b,f8d3c,f8d3d,f8d3e} \draw[link] (f8d3.east) -- ++(9,0) |- (\c.west);
  \draw[link] (f9.east) -- ++(9,0) |- (f9a.west);
\end{tikzpicture}
\end{document}
